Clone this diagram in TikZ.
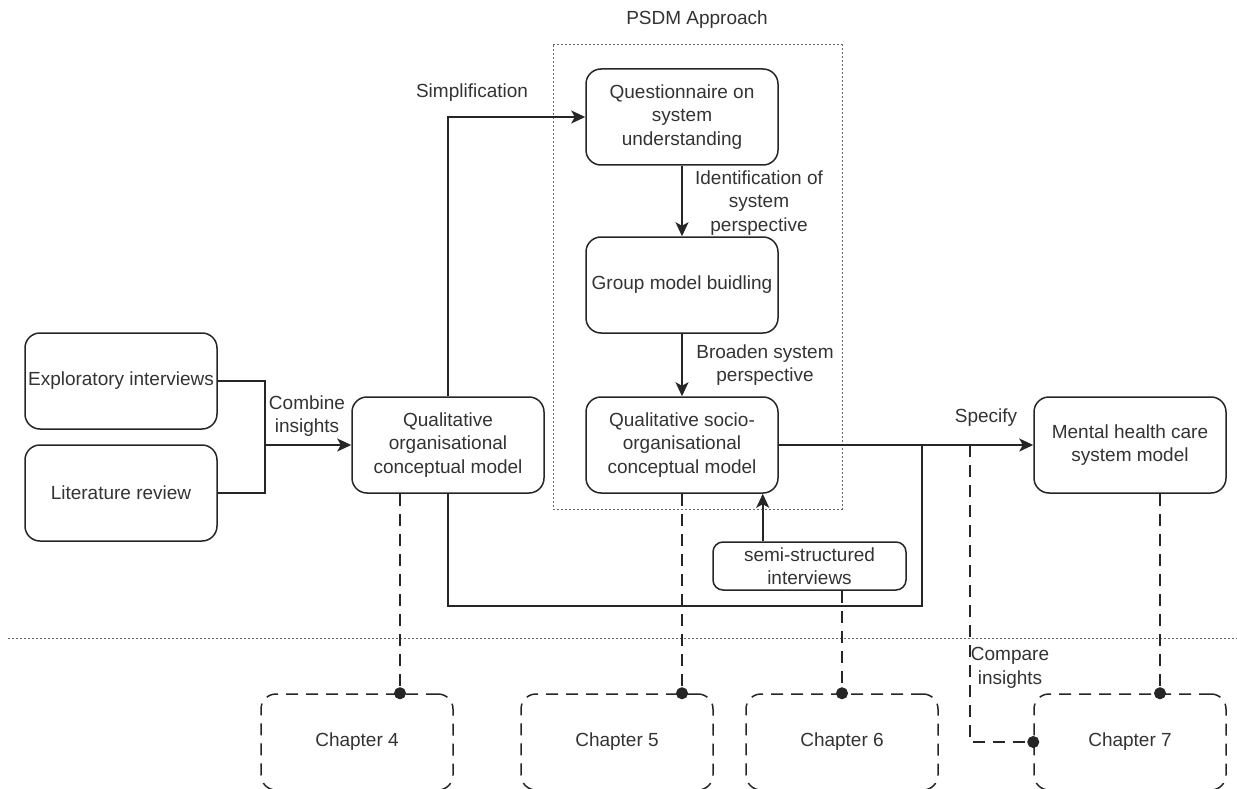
\documentclass[tikz,border=0pt]{standalone}
\usepackage{fontspec}
\setmainfont{Liberation Sans}
\usetikzlibrary{arrows.meta,calc}
\begin{document}
\begin{tikzpicture}[x=1pt,y=-1pt,
  every node/.style={font=\fontsize{19}{23.5}\selectfont, text=black!80},
  box/.style={draw=black!85, line width=1.5pt, rounded corners=15pt,
    minimum width=192pt, minimum height=96pt, align=center, inner sep=0pt},
  smallbox/.style={box, minimum width=193pt, minimum height=48pt, rounded corners=10pt},
  chapbox/.style={box, dash pattern=on 12pt off 8pt},
  lbl/.style={align=center, inner sep=0pt},
  link/.style={draw=black!85, line width=1.5pt},
  arr/.style={link, -{Stealth[length=14pt, width=13pt, inset=3.5pt]}},
  dashlink/.style={link, dash pattern=on 12pt off 8pt,
    -{Circle[length=12pt]}, shorten >=-6pt},
  frame/.style={draw=black!60, line width=1pt, dash pattern=on 2pt off 2pt}
]
\useasboundingbox (0,0) rectangle (1237,789);

% PSDM frame and page separator
\draw[frame] (553,45) rectangle (842,509);
\node[lbl] (psdm) at (697,20) {PSDM Approach};
\draw[frame] (8,638) -- (1237,638);

% main boxes
\node[box] (expl)  at (121,381) {Exploratory interviews};
\node[box] (lit)   at (121,493) {Literature review};
\node[box] (qorg)  at (448,445) {Qualitative\\organisational\\conceptual model};
\node[box] (quest) at (682,117) {Questionnaire on\\system\\understanding};
\node[box] (group) at (682,285) {Group model buidling};
\node[box] (qsoc)  at (682,445) {Qualitative socio-\\organisational\\conceptual model};
\node[box] (mh)    at (1130,445) {Mental health care\\system model};
\node[smallbox] (semi) at (809.5,566) {semi-structured\\interviews};

% chapter boxes
\node[chapbox] (ch4) at (357,742) {Chapter 4};
\node[chapbox] (ch5) at (617,742) {Chapter 5};
\node[chapbox] (ch6) at (842,742) {Chapter 6};
\node[chapbox] (ch7) at (1130,742) {Chapter 7};

% combining the two sources
\coordinate (join) at (265,445);
\draw[link] (expl.east) -| (join);
\draw[link] (lit.east) -| (join);
\draw[arr] (join) -- (qorg.west);
\node[lbl] (combine) at (307,416) {Combine\\insights};

% simplification into the PSDM approach
\draw[arr] (qorg.north) |- (quest.west);
\node[lbl] (simpl) at (472,93) {Simplification};

\draw[arr] (quest.south) -- (group.north);
\node[lbl] (ident) at (759,203) {Identification of\\system\\perspective};
\draw[arr] (group.south) -- (qsoc.north);
\node[lbl] (broaden) at (765,365) {Broaden system\\perspective};

% specification
\draw[arr] (qsoc.east) -- (mh.west);
\node[lbl] (specify) at (986,418) {Specify};

% feedback loop below the models
\coordinate (branch) at (922,445);
\draw[link] (qorg.south) -- (448,606) -| (branch);

% interviews feeding the socio-organisational model
\coordinate (sa) at ([xshift=-16pt]qsoc.south east);
\draw[arr] (sa |- semi.north) -- (sa);

% chapter references
\coordinate (d4) at ([xshift=-48pt]qorg.south);
\draw[dashlink] (d4) -- (d4 |- ch4.north);
\draw[dashlink] (qsoc.south) -- (qsoc.south |- ch5.north);
\draw[dashlink] (ch6.north |- semi.south) -- (ch6.north);
\coordinate (d7) at ([xshift=30pt]mh.south);
\draw[dashlink] (d7) -- (d7 |- ch7.north);
\coordinate (cmp) at (970,445);
\draw[dashlink] (cmp) |- (ch7.west);
\node[lbl] (compare) at (1010,668) {Compare\\insights};
\end{tikzpicture}
\end{document}
